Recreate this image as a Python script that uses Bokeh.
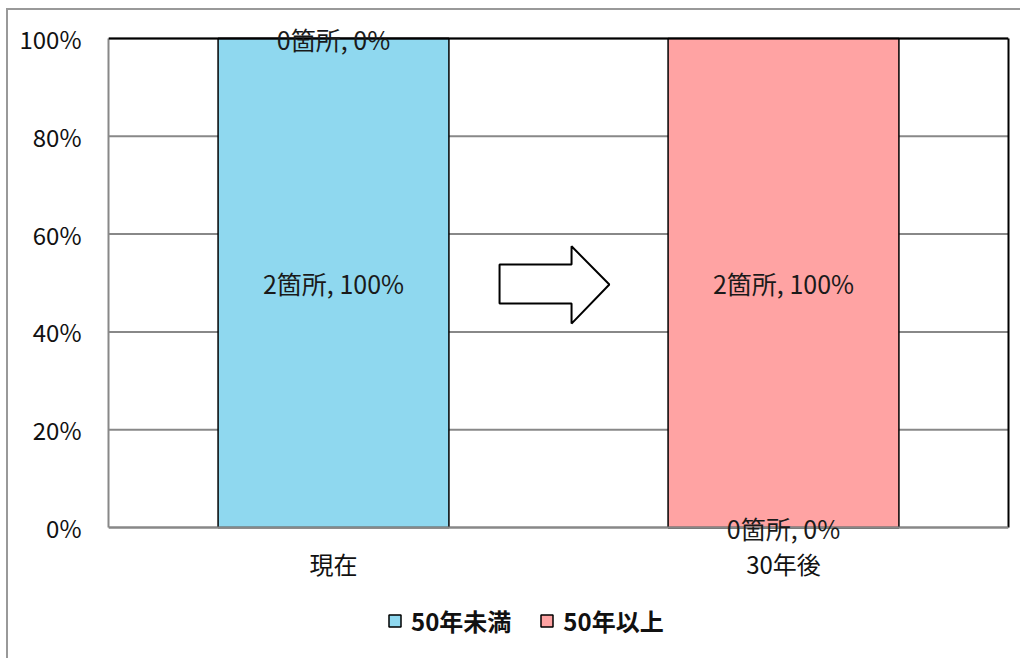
from bokeh.plotting import figure
from bokeh.models import (ColumnDataSource, FactorRange, Legend, LegendItem,
                          LabelSet, FixedTicker, Span, LinearAxis, CategoricalAxis)
from bokeh.core.properties import value
from bokeh.embed import file_html
from bokeh.resources import INLINE

categories = ["現在", "30年後"]
series_names = ["50年未満", "50年以上"]
under50_count = [2, 0]
over50_count = [0, 2]
under50_pct = [100, 0]
over50_pct = [0, 100]
y_ticks = [0, 20, 40, 60, 80, 100]

FONT = "Noto Sans CJK JP"
BLUE = "#8FD8EF"
PINK = "#FFA3A3"
GRID = "#888888"

source = ColumnDataSource(dict(
    cat=categories,
    under=under50_pct,
    over=over50_pct,
))

# frame taller than the 0-100% plot area so edge labels / legend are not clipped
PX_PER_UNIT = 4.89
Y_START = -(658 - 527) / PX_PER_UNIT
Y_END = 100 + 14 / PX_PER_UNIT

OX, OY = 8, 10  # canvas offset caused by the outer frame border
p = figure(x_range=FactorRange(*categories, range_padding=0), y_range=(Y_START, Y_END),
           frame_width=900, frame_height=634, x_axis_location=None,
           output_backend="svg", toolbar_location=None,
           min_border_left=108 - OX, min_border_right=12, min_border_top=24 - OY,
           min_border_bottom=0)
p.styles = {"margin-left": "6px", "margin-top": "8px",
            "border-left": "2px solid #999999", "border-top": "2px solid #999999"}

# gridlines
p.ygrid.grid_line_color = None
p.xgrid.grid_line_color = None
p.segment(x0=[0] * len(y_ticks), x1=[2] * len(y_ticks), y0=y_ticks, y1=y_ticks,
          line_color=GRID, line_width=2)

r = p.vbar_stack(["under", "over"], x="cat", width=0.513, source=source,
                 fill_color=[BLUE, PINK], line_color="black", line_width=1.5)

# plot-area top border and bottom (0%) axis line
p.add_layout(Span(location=100, dimension="width", line_color="black", line_width=2))
p.add_layout(Span(location=0, dimension="width", line_color=GRID, line_width=2))

# data labels
lbl_x, lbl_y, lbl_t = [], [], []
for i, c in enumerate(categories):
    lbl_x.append(c); lbl_y.append(under50_pct[i] / 2)
    lbl_t.append(f"{under50_count[i]}箇所, {under50_pct[i]}%")
    lbl_x.append(c); lbl_y.append(under50_pct[i] + over50_pct[i] / 2)
    lbl_t.append(f"{over50_count[i]}箇所, {over50_pct[i]}%")
lsrc = ColumnDataSource(dict(x=lbl_x, y=lbl_y, t=lbl_t))
labels = LabelSet(x="x", y="y", text="t", source=lsrc, text_align="center",
                  text_baseline="middle", text_font=value(FONT),
                  text_font_size="25px", text_color="#1a1a1a")
p.add_layout(labels)

# arrow decoration (synthetic coordinates between the categories)
ax = [0.869, 1.029, 1.029, 1.113, 1.029, 1.029, 0.869]
ay = [53.8, 53.8, 57.5, 49.7, 41.7, 45.8, 45.8]
p.patch(ax, ay, fill_color="white", line_color="black", line_width=2)

# category axis fixed at 0%
xaxis = CategoricalAxis(fixed_location=0, axis_line_color=None,
                        major_tick_line_color=None, minor_tick_line_color=None,
                        major_label_text_font=FONT, major_label_text_font_size="24px",
                        major_label_text_color="#111111", major_label_standoff=12)
p.add_layout(xaxis, "below")

# value axis
p.yaxis.ticker = FixedTicker(ticks=y_ticks)
p.yaxis.major_label_overrides = {t: f"{t}%" for t in y_ticks}
p.yaxis.bounds = (0, 100)
p.yaxis.axis_line_color = GRID
p.yaxis.axis_line_width = 2
p.yaxis.major_tick_line_color = None
p.yaxis.minor_tick_line_color = None
p.yaxis.major_label_text_font = FONT
p.yaxis.major_label_text_font_size = "24px"
p.yaxis.major_label_text_color = "#111111"
p.yaxis.major_label_standoff = 21

right = LinearAxis(bounds=(0, 100), axis_line_color="black", axis_line_width=2,
                   major_tick_line_color=None, minor_tick_line_color=None,
                   major_label_text_font_size="0px", ticker=FixedTicker(ticks=[]))
p.add_layout(right, "right")

p.outline_line_color = None
p.background_fill_color = "white"
p.border_fill_color = "white"

legend = Legend(items=[LegendItem(label=series_names[0], renderers=[r[0]]),
                       LegendItem(label=series_names[1], renderers=[r[1]])],
                orientation="horizontal", location=(279, 20),
                label_text_font=FONT, label_text_font_size="24px",
                label_text_font_style="bold", label_text_color="#111111",
                glyph_width=15, glyph_height=15, label_standoff=9, spacing=28,
                padding=0, margin=0, border_line_color=None,
                background_fill_alpha=0)
p.add_layout(legend, "center")

open("out.html", "w").write(file_html(p, INLINE))
